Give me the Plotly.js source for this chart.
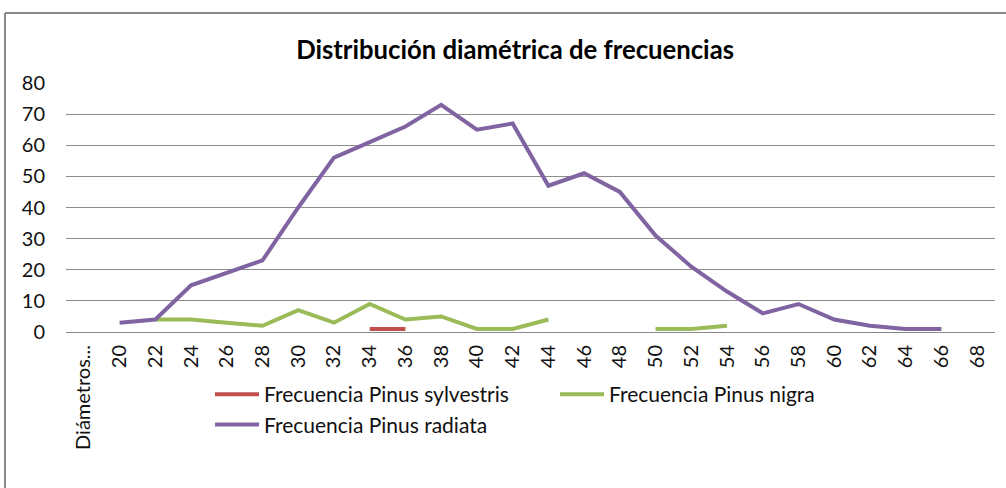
<!DOCTYPE html>
<html>
<head>
<meta charset="utf-8">
<script src="https://cdn.plot.ly/plotly-3.0.1.min.js"></script>
<style>
html, body { margin: 0; padding: 0; background: #fff; }
#chart { width: 1006px; height: 488px; }
</style>
</head>
<body>
<div id="chart"></div>
<script>
const categories = ["Diámetros...", "20", "22", "24", "26", "28", "30", "32", "34", "36", "38", "40", "42", "44", "46", "48", "50", "52", "54", "56", "58", "60", "62", "64", "66", "68"];
const sylvestris = [null, null, null, null, null, null, null, null, 1, 1, null, null, null, null, null, null, null, null, null, null, null, null, null, null, null, null];
const nigra = [null, null, 4, 4, 3, 2, 7, 3, 9, 4, 5, 1, 1, 4, null, null, 1, 1, 2, null, null, null, null, null, null, null];
const radiata = [null, 3, 4, 15, 19, 23, 40, 56, 61, 66, 73, 65, 67, 47, 51, 45, 31, 21, 13, 6, 9, 4, 2, 1, 1, null];
const seriesNames = ["Frecuencia Pinus sylvestris", "Frecuencia Pinus nigra", "Frecuencia Pinus radiata"];
const titleText = "Distribución diamétrica de frecuencias";

const FONT = "Lato, 'Open Sans', sans-serif";
const colors = ["#C0504D", "#9BBB59", "#8064A2"];
const seriesValues = [sylvestris, nigra, radiata];

const traces = seriesValues.map((vals, i) => ({
  type: "scatter",
  mode: "lines",
  x: categories,
  y: vals,
  name: seriesNames[i],
  connectgaps: false,
  line: { color: colors[i], width: 4 },
  hoverinfo: "skip"
}));

const W = 1006, H = 488;
const mL = 66, mR = 11, mT = 83, mB = 156;
const pw = W - mL - mR, ph = H - mT - mB;
const px2x = p => (p - mL) / pw;
const px2y = p => (H - mB - p) / ph;

const layout = {
  width: W, height: H,
  margin: { l: mL, r: mR, t: mT, b: mB, pad: 0 },
  paper_bgcolor: "#ffffff",
  plot_bgcolor: "#ffffff",
  font: { family: FONT, size: 20, color: "#222" },
  title: {
    text: "<b>" + titleText + "</b>",
    font: { family: FONT, size: 25.7, color: "#000" },
    x: 0.512, xanchor: "center",
    y: 1 - 50 / H, yanchor: "middle"
  },
  xaxis: {
    type: "category",
    categoryorder: "array",
    categoryarray: categories,
    range: [-0.5, categories.length - 0.5],
    tickangle: -90,
    showgrid: false,
    showline: true,
    linecolor: "#888",
    linewidth: 1,
    ticks: "",
    ticklabelstandoff: 4,
    tickfont: { family: FONT, size: 20, color: "#111" },
    zeroline: false,
    fixedrange: true
  },
  yaxis: {
    range: [0, 80],
    dtick: 10,
    tick0: 0,
    showgrid: true,
    gridcolor: "#8c8c8c",
    gridwidth: 1,
    showline: false,
    zeroline: false,
    ticks: "",
    ticklabelstandoff: 20,
    tickfont: { family: FONT, size: 20, color: "#111" },
    fixedrange: true
  },
  showlegend: true,
  legend: {
    orientation: "h",
    x: px2x(210), xanchor: "left",
    y: px2y(374), yanchor: "top",
    entrywidth: 286,
    entrywidthmode: "pixels",
    itemwidth: 44,
    traceorder: "normal",
    font: { family: FONT, size: 21, color: "#111" },
    bgcolor: "rgba(0,0,0,0)"
  },
  shapes: [
    { type: "line", xref: "paper", yref: "paper", x0: px2x(5), x1: px2x(1010), y0: px2y(13), y1: px2y(13), line: { color: "#8a8a8a", width: 2 } },
    { type: "line", xref: "paper", yref: "paper", x0: px2x(5), x1: px2x(5), y0: px2y(13), y1: px2y(492), line: { color: "#8a8a8a", width: 2 } }
  ]
};

Plotly.newPlot("chart", traces, layout, { staticPlot: true, displayModeBar: false });
</script>
</body>
</html>
